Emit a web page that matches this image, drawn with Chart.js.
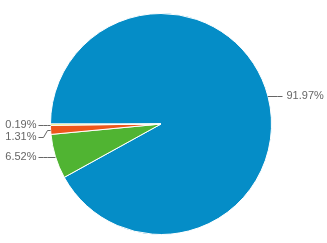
<!DOCTYPE html>
<html>
<head>
<meta charset="utf-8">
<script src="https://cdn.jsdelivr.net/npm/chart.js@4"></script>
<style>
  html, body { margin: 0; padding: 0; background: #fff; }
  #wrap { width: 327px; height: 243px; }
</style>
</head>
<body>
<div id="wrap"><canvas id="pieChart" width="327" height="243"></canvas></div>
<script>
// Pie data
const categories = ["A", "B", "C", "D"];
const shares = [91.97, 6.52, 1.31, 0.19];
const colors = ["#058DC7", "#50B432", "#ED561B", "#DDDF00"];

// Labels outside the pie with leader lines
const outsideLabels = {
  id: "outsideLabels",
  afterDraw(chart) {
    const ctx = chart.ctx;
    const arcs = chart.getDatasetMeta(0).data;
    const left = [];
    const right = [];
    arcs.forEach((arc, i) => {
      const p = arc.getProps(["x", "y", "startAngle", "endAngle", "outerRadius"], true);
      const mid = (p.startAngle + p.endAngle) / 2;
      const ex = p.x + Math.cos(mid) * p.outerRadius;
      const ey = p.y + Math.sin(mid) * p.outerRadius;
      const item = { ex, ey, ly: ey, text: shares[i].toFixed(2) + "%", cx: p.x, r: p.outerRadius };
      if (Math.cos(mid) < 0) left.push(item); else right.push(item);
    });

    // push overlapping labels apart
    [left, right].forEach(side => {
      side.sort((a, b) => a.ey - b.ey);
      for (let k = 1; k < side.length; k++) {
        if (side[k].ly - side[k - 1].ly < 12) side[k].ly = side[k - 1].ly + 12;
      }
    });

    ctx.save();
    ctx.font = "11px 'Liberation Sans', Arial, sans-serif";
    ctx.fillStyle = "#666";
    ctx.strokeStyle = "#666";
    ctx.lineWidth = 1;
    ctx.textBaseline = "middle";

    left.forEach(it => {
      const lx = it.cx - it.r - 12;
      ctx.beginPath();
      ctx.moveTo(lx, Math.round(it.ly) + 0.5);
      ctx.lineTo(lx + 5, Math.round(it.ly) + 0.5);
      ctx.lineTo(lx + 9, Math.round(it.ey) + 0.5);
      ctx.lineTo(it.ex, Math.round(it.ey) + 0.5);
      ctx.stroke();
      ctx.textAlign = "right";
      ctx.fillText(it.text, lx - 2, it.ly);
    });

    right.forEach(it => {
      const lx = it.cx + it.r + 11;
      ctx.beginPath();
      ctx.moveTo(it.ex, Math.round(it.ey) + 0.5);
      ctx.lineTo(lx - 5, Math.round(it.ly) + 0.5);
      ctx.lineTo(lx, Math.round(it.ly) + 0.5);
      ctx.stroke();
      ctx.textAlign = "left";
      ctx.fillText(it.text, lx + 4, it.ly);
    });
    ctx.restore();
  }
};

const pieCtx = document.getElementById("pieChart").getContext("2d");
new Chart(pieCtx, {
  type: "pie",
  data: {
    labels: categories,
    datasets: [
      {
        data: shares,
        backgroundColor: colors,
        borderColor: "#ffffff",
        borderWidth: 1,
      },
    ],
  },
  options: {
    responsive: false,
    animation: false,
    rotation: -90,
    layout: {
      padding: { top: 13, bottom: 8, left: 0, right: 5 },
    },
    plugins: {
      legend: { display: false },
      tooltip: { enabled: false },
    },
  },
  plugins: [outsideLabels],
});
</script>
</body>
</html>
